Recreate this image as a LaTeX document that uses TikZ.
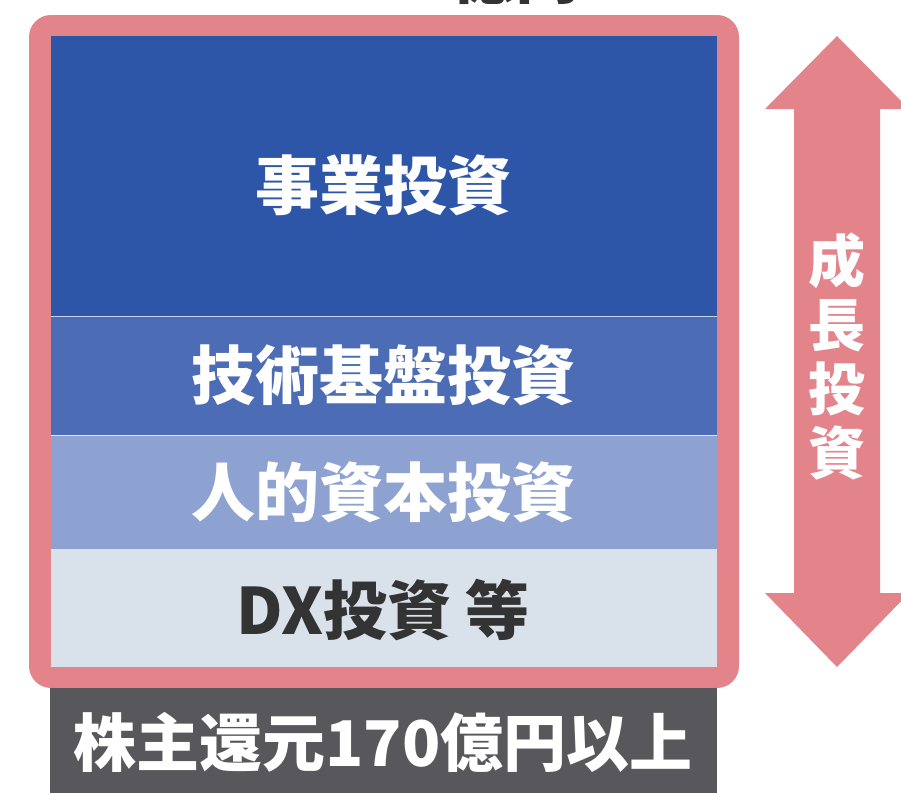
\documentclass[tikz,border=0pt]{standalone}
\usepackage{fontspec}
\newfontfamily\jp{Noto Sans CJK JP}
\definecolor{pinkframe}{HTML}{E3848A}
\definecolor{bandA}{HTML}{2E56A8}
\definecolor{bandB}{HTML}{4C6DB5}
\definecolor{bandC}{HTML}{8EA2D1}
\definecolor{bandD}{HTML}{D9E2EA}
\definecolor{greyband}{HTML}{58585C}
\definecolor{darktext}{HTML}{333333}
\tikzset{
  band/.style={inner sep=0pt, outer sep=0pt},
  lbl/.style={font=\jp\bfseries\fontsize{64}{64}\selectfont, text=white, inner sep=0pt},
  darklbl/.style={lbl, text=darktext},
}
\begin{document}
\begin{tikzpicture}[x=1pt,y=-1pt]
\useasboundingbox (0,0) rectangle (901,793);
% cut-off top label
\node[darklbl, anchor=base] (toplbl) at (515,-2) {億円};
% pink frame
\fill[pinkframe, rounded corners=22pt] (29,15) rectangle (739,688);
% bands
\fill[bandA] (51,36) rectangle (717,316);
\fill[bandB] (51,316) rectangle (717,435);
\fill[bandC] (51,435) rectangle (717,549);
\fill[bandD] (51,549) rectangle (717,667);
\fill[greyband] (50,688) rectangle (717,793);
\draw[white!70!bandB, line width=1pt] (51,316) -- (717,316);
\draw[white!70!bandC, line width=0.6pt] (51,435) -- (717,435);
% labels
\node[lbl] (l1) at (383,185) {事業投資};
\node[lbl] (l2) at (383,375) {技術基盤投資};
\node[lbl] (l3) at (383,492) {人的資本投資};
\node[darklbl] (l4) at (383,610) {DX投資 等};
\node[lbl, font=\jp\bfseries\fontsize{63}{63}\selectfont] (l5) at (383,742) {株主還元170億円以上};
% double arrow
\fill[pinkframe] (837,36) -- (909,109) -- (880,109) -- (880,593) -- (909,593)
  -- (837,667) -- (765,593) -- (794,593) -- (794,109) -- (765,109) -- cycle;
\node[font=\jp\bfseries\fontsize{57}{64}\selectfont, text=white, align=center, inner sep=0pt] (grow) at (837,356) {成\\長\\投\\資};
\end{tikzpicture}
\end{document}
